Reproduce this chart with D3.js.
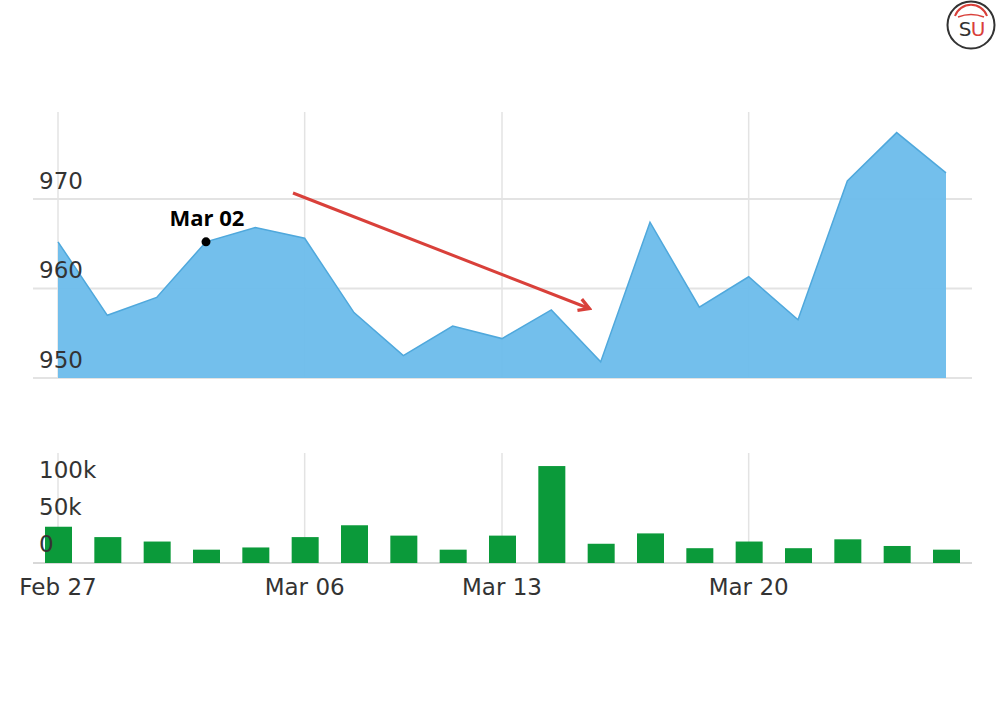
<!DOCTYPE html>
<html><head><meta charset="utf-8">
<script src="https://cdn.jsdelivr.net/npm/d3@7"></script>
<style>html,body{margin:0;padding:0;background:#fff;}svg{display:block;}</style>
</head><body>
<svg id="c" width="1000" height="714"></svg>
<script>
const dates = ["Feb 27","Feb 28","Mar 01","Mar 02","Mar 03","Mar 06","Mar 08","Mar 09","Mar 10","Mar 13","Mar 14","Mar 15","Mar 16","Mar 17","Mar 20","Mar 21","Mar 22","Mar 23","Mar 24"];
const prices = [965.2,957.0,959.0,965.2,966.8,965.6,957.3,952.5,955.8,954.4,957.6,951.8,967.4,957.9,961.3,956.5,972.0,977.4,972.9];
const volumes = [49000,35000,29000,18000,21000,35000,51000,37000,18000,37000,131000,26000,40000,20000,29000,20000,32000,23000,18000];
const priceTicks = [950,960,970];
const volumeTicks = [0,50000,100000];
const volumeTickLabels = ["0","50k","100k"];
const xTickDates = ["Feb 27","Mar 06","Mar 13","Mar 20"];
const annotationDate = "Mar 02";

const svg = d3.select("#c");
const font = "'DejaVu Sans', Verdana, sans-serif";
const x = d3.scalePoint().domain(dates).range([58, 946]);
const y = d3.scaleLinear().domain([950, 979.7]).range([378, 112]);
const yv = d3.scaleLinear().domain([0, 100000]).range([563, 489]);
const gridColor = "#e3e3e3";
const left = 33, right = 972;

// price grid
svg.append("g").selectAll("line").data(priceTicks).join("line")
  .attr("x1", left).attr("x2", right).attr("y1", d => y(d)).attr("y2", d => y(d))
  .attr("stroke", gridColor).attr("stroke-width", 2);
svg.append("g").selectAll("line").data(xTickDates).join("line")
  .attr("x1", d => x(d)).attr("x2", d => x(d)).attr("y1", 112).attr("y2", 378)
  .attr("stroke", gridColor).attr("stroke-width", 1.5);

// area
const area = d3.area().x((d,i) => x(dates[i])).y0(y(950)).y1(d => y(d));
svg.append("path").datum(prices).attr("d", area).attr("fill", "#6bbceb").attr("fill-opacity", 0.95);
const line = d3.line().x((d,i) => x(dates[i])).y(d => y(d));
svg.append("path").datum(prices).attr("d", line).attr("fill", "none").attr("stroke", "#4fa8dc").attr("stroke-width", 1.5);

// price labels
svg.append("g").selectAll("text").data(priceTicks).join("text")
  .attr("x", 39).attr("y", d => y(d) - 10)
  .attr("font-family", font).attr("font-size", 23).attr("fill", "#333")
  .text(d => d);

// volume grid
svg.append("g").selectAll("line").data(xTickDates).join("line")
  .attr("x1", d => x(d)).attr("x2", d => x(d)).attr("y1", 453).attr("y2", 563)
  .attr("stroke", gridColor).attr("stroke-width", 1.5);
svg.append("line").attr("x1", left).attr("x2", right).attr("y1", yv(0)).attr("y2", yv(0))
  .attr("stroke", "#d8d8d8").attr("stroke-width", 2);

// bars
const bw = 27;
svg.append("g").selectAll("rect").data(volumes).join("rect")
  .attr("x", (d,i) => x(dates[i]) - bw/2 + 0.5).attr("width", bw)
  .attr("y", d => yv(d)).attr("height", d => yv(0) - yv(d))
  .attr("fill", "#0b9a3a");

// volume labels
svg.append("g").selectAll("text").data(volumeTicks).join("text")
  .attr("x", 39).attr("y", d => yv(d) - 11)
  .attr("font-family", font).attr("font-size", 23).attr("fill", "#333")
  .text((d,i) => volumeTickLabels[i]);

// x labels
svg.append("g").selectAll("text").data(xTickDates).join("text")
  .attr("x", d => x(d)).attr("y", 595).attr("text-anchor", "middle")
  .attr("font-family", font).attr("font-size", 23).attr("fill", "#333")
  .text(d => d);

// annotation
const ai = dates.indexOf(annotationDate);
svg.append("circle").attr("cx", x(annotationDate)).attr("cy", y(prices[ai])).attr("r", 4.5).attr("fill", "#000");
svg.append("text").attr("x", x(annotationDate) + 1).attr("y", y(prices[ai]) - 16).attr("text-anchor", "middle")
  .attr("font-family", "'Open Sans', 'DejaVu Sans', sans-serif").attr("font-weight", "bold").attr("font-size", 22)
  .attr("fill", "#000").text(annotationDate);

// arrow
const defs = svg.append("defs");
defs.append("marker").attr("id", "ah").attr("viewBox", "0 0 10 10").attr("refX", 7).attr("refY", 5)
  .attr("markerWidth", 5).attr("markerHeight", 5).attr("orient", "auto")
  .append("path").attr("d", "M1,1 L8,5 L1,9").attr("fill", "none").attr("stroke", "#d9403a").attr("stroke-width", 2.2);
svg.append("line").attr("x1", 293).attr("y1", 193).attr("x2", 588).attr("y2", 308)
  .attr("stroke", "#d9403a").attr("stroke-width", 3).attr("marker-end", "url(#ah)");

// logo
const logo = svg.append("g").attr("transform", "translate(971,25)");
logo.append("circle").attr("r", 23.5).attr("fill", "#fff").attr("stroke", "#333").attr("stroke-width", 2);
logo.append("path").attr("d", "M-16,-9 A17,17 0 0 1 16,-9").attr("fill", "none").attr("stroke", "#d9403a").attr("stroke-width", 2);
logo.append("path").attr("d", "M-13,-8 Q0,-13 13,-8").attr("fill", "none").attr("stroke", "#d9403a").attr("stroke-width", 1.5);
logo.append("text").attr("x", -6).attr("y", 11).attr("text-anchor", "middle").attr("font-family", font)
  .attr("font-size", 20).attr("fill", "#333").text("S");
logo.append("text").attr("x", 7).attr("y", 11).attr("text-anchor", "middle").attr("font-family", font)
  .attr("font-size", 20).attr("fill", "#d9403a").text("U");
</script>
</body></html>
